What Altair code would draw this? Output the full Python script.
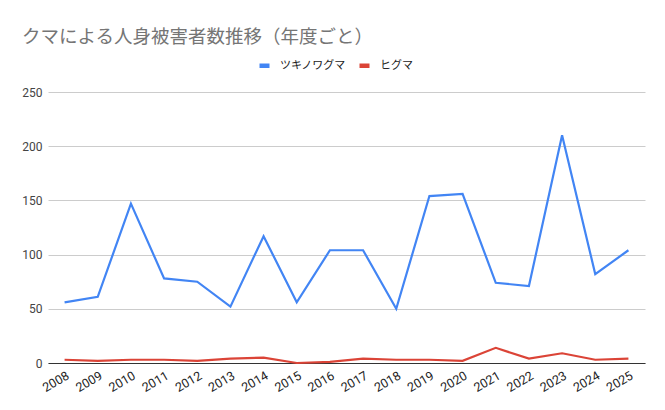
import altair as alt
import pandas as pd

years = ["2008", "2009", "2010", "2011", "2012", "2013", "2014", "2015", "2016",
         "2017", "2018", "2019", "2020", "2021", "2022", "2023", "2024", "2025"]
tsukinowaguma = [56, 61, 147, 78, 75, 52, 117, 56, 104, 104, 50, 154, 156, 74, 71, 210, 82, 104]
higuma = [3, 2, 3, 3, 2, 4, 5, 0, 1, 4, 3, 3, 2, 14, 4, 9, 3, 4]
series_names = ["ツキノワグマ", "ヒグマ"]
series_colors = ["#4285f4", "#db4437"]
y_ticks = [0, 50, 100, 150, 200, 250]

rows = []
for i, yr in enumerate(years):
    rows.append({"year": yr, "series": series_names[0], "value": tsukinowaguma[i]})
    rows.append({"year": yr, "series": series_names[1], "value": higuma[i]})
df = pd.DataFrame(rows)

FONT = "Roboto, 'Noto Sans CJK JP', sans-serif"

chart = alt.Chart(df).mark_line(strokeWidth=2.2).encode(
    x=alt.X("year:O", sort=years, title=None,
            scale=alt.Scale(type="point", padding=0.5),
            axis=alt.Axis(labelAngle=-30, ticks=False, domainColor="#333333",
                          labelColor="#222222", labelFontSize=12.5, labelPadding=6,
                          grid=False)),
    y=alt.Y("value:Q", title=None,
            scale=alt.Scale(domain=[0, 250], nice=False),
            axis=alt.Axis(values=y_ticks, ticks=False, domain=False,
                          gridColor="#cccccc", labelColor="#444444",
                          labelFontSize=12, labelPadding=6)),
    color=alt.Color("series:N",
                    scale=alt.Scale(domain=series_names, range=series_colors),
                    legend=alt.Legend(title=None, orient="none", direction="horizontal",
                                      legendX=209, legendY=-34,
                                      symbolType="stroke", symbolStrokeWidth=4.5,
                                      symbolSize=100, labelFontSize=11,
                                      labelColor="#222222", columnPadding=4,
                                      labelOffset=8)),
    order=alt.Order("year:O"),
).properties(
    width=597,
    height=271,
    padding={"left": 40, "top": 84, "right": 12, "bottom": 40},
    autosize=alt.AutoSizeParams(type="none"),
    title=alt.TitleParams("クマによる人身被害者数推移（年度ごと）", anchor="start",
                          frame="group", dx=-26, fontSize=18.5, fontWeight="normal",
                          color="#757575", font=FONT, offset=12),
).configure(font=FONT).configure_view(stroke=None)

chart.save("out.html", embed_options={"renderer": "svg", "actions": False})
